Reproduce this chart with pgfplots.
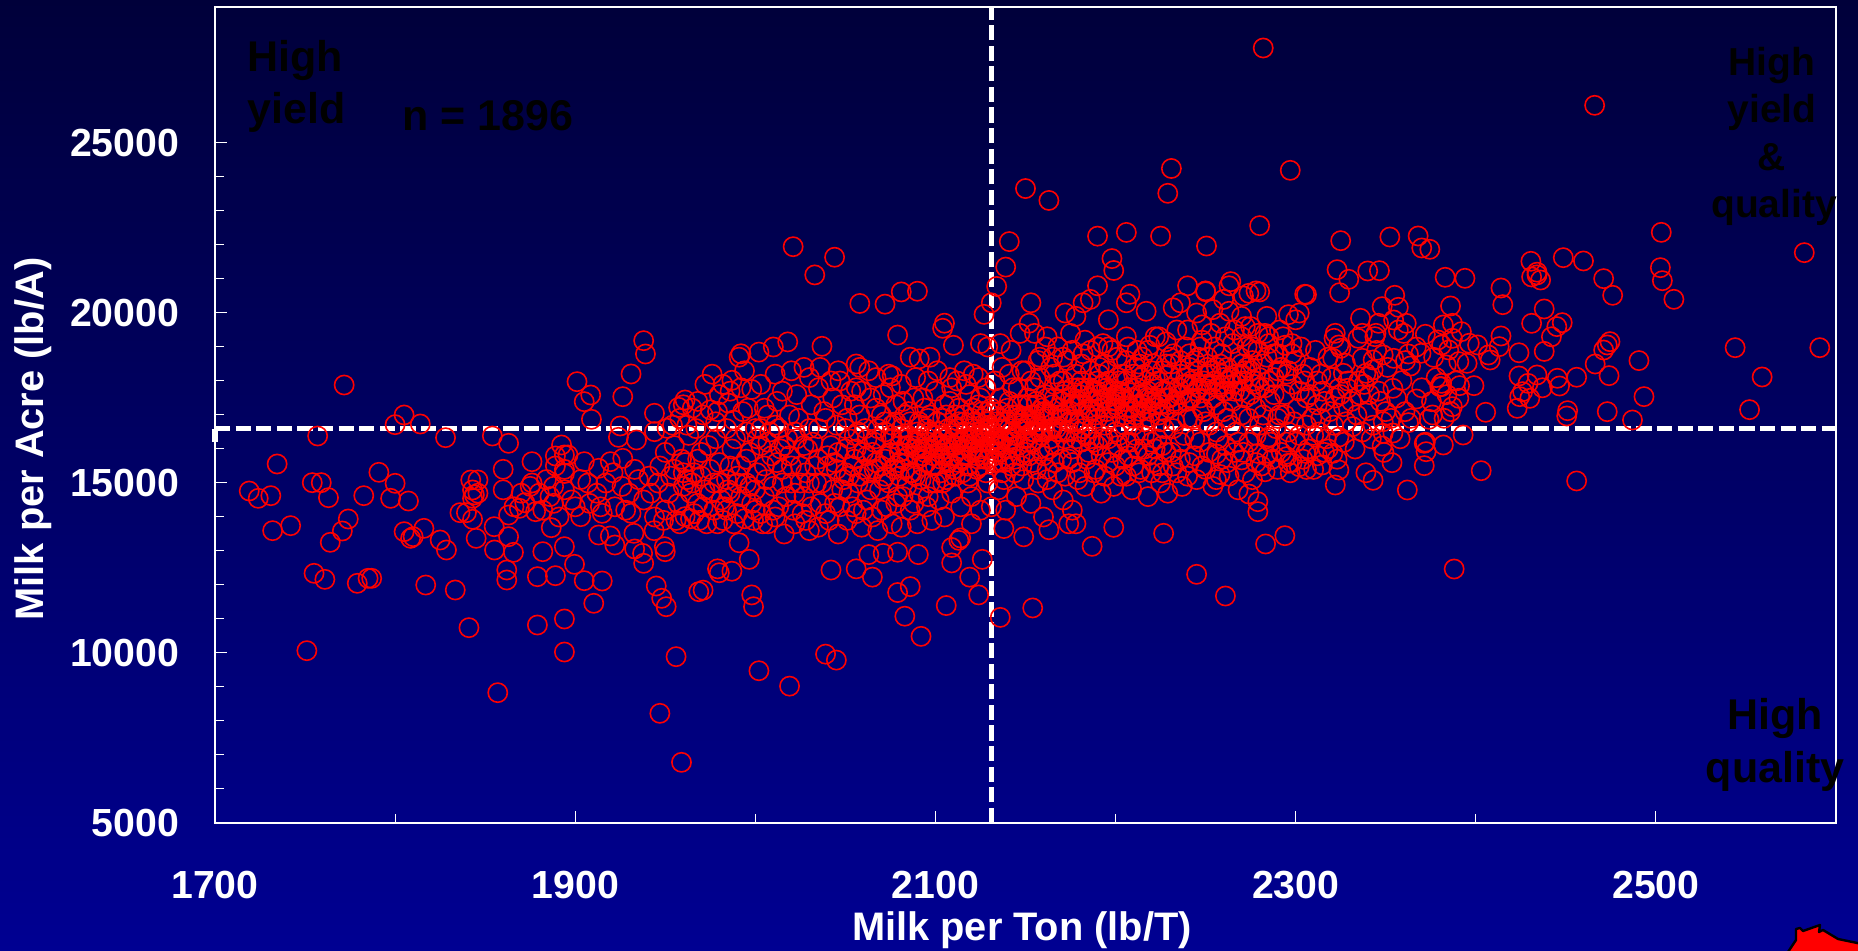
\documentclass[border=0pt]{standalone}
\usepackage{pgfplots}
\pgfplotsset{compat=1.18}
\usepackage{fontspec}
\setmainfont{Liberation Sans}
\definecolor{bgtop}{RGB}{0,0,58}
\definecolor{bgbot}{RGB}{0,0,146}
\begin{document}
\begin{tikzpicture}
\shade[top color=bgtop,bottom color=bgbot] (0,0) rectangle (929pt,475.5pt);
\begin{axis}[
  at={(107.5pt,64pt)},anchor=south west,scale only axis,
  width=810.5pt,height=408pt,
  xmin=1700,xmax=2600,ymin=5000,ymax=29000,
  xtick={1700,1900,2100,2300,2500},minor x tick num=1,
  ytick={5000,10000,15000,20000,25000},minor y tick num=4,
  scaled y ticks=false,
  xtick pos=bottom,ytick pos=left,tick align=inside,
  major tick length=6pt,minor tick length=4.5pt,
  every tick/.style={white,line width=0.5pt},
  axis line style={white,line width=1.3pt},
  /pgf/number format/assume math mode=true,
  /pgf/number format/1000 sep={},
  /pgf/number format/fixed,
  tick label style={font=\bfseries\fontsize{19.6}{19.6}\selectfont,text=white},
  xticklabel style={yshift=-20.7pt},
  yticklabel style={xshift=-14.4pt},
  clip=false,
]
\addplot[white,line width=2.6pt,dash pattern=on 7.6pt off 2.7pt] coordinates {(1700,16600)(2600,16600)};
\addplot[white,line width=2.6pt,dash pattern=on 7.6pt off 2.7pt] coordinates {(2131,5000)(2131,29000)};
\addplot[white,line width=3pt] coordinates {(1700,16600)(1700,16220)};
\addplot[only marks,mark=o,mark size=4.8pt,draw=red,mark options={draw=red,line width=0.8pt}] coordinates {
(2282,27794)(2466,26108)(2297,24196)(2231,24250)(2229,23520)(2150,23660)(2163,23310)(2280,22569)(2141,22100)(2021,21950)(2044,21640)(2033,21120)
(2190,22260)(2206,22370)(2225,22260)(2250.5,21970)(2325,22127)(2352.3,22235)(2368,22265)(2370,21912)(2374.5,21873)(2503,22372)(2582.4,21775)
(2430.6,21520)(2448.6,21627)(2459.8,21530)(2431,21060)(2434,21200)(2436,20970)(2434,21120)(2471,21010)(2476,20520)(2502.5,21333)(2503.6,20950)(2510,20402)
(2323,21274)(2329.5,20990)(2340,21236)(2346.5,21245)(2324.4,20598)(2383,21050)(2394,21020)(2264,20922)(2250,20627)(2274,20580)(2280,20618)(2306,20540)
(2355,20520)(2348,20186)(2357,20166)(2386,20206)(2414,20735)(2415,20245)(2438,20118)(2431,19696)(2448,19716)(2445,19600)(2442,19300)(2438,18870)(2414,19324)
(2413,19010)(2401,19060)(2396.4,19110)(2424,18830)(2474.5,19157)(2473,19060)(2471,18910)(2466.3,18500)(2490.6,18600)(2544,18980)(2591,18980)(2474,18157)
(2456,18110)(2445.3,18080)(2559,18118)(2446.5,17853)(2437,17800)(2434,18176)(2424,18147)(2429,17930)(2426,17686)(2430,17490)(2424.4,17540)(2423,17196)
(2493.4,17540)(2473,17098)(2451,17127)(2450.5,16970)(2405.5,17080)(2552,17157)(2487,16853)(2399,17863)(2391,17863)(2381,17834)(2393,16412)(2382,16118)
(2371.4,16167)(2372.4,15921)(2371.4,15510)(2353.5,15598)(2348,16088)(2403,15362)(2456,15060)(2343,15080)(2362,14794)(2322,14941)(2279,14451)(2279,14157)
(2274,14676)(2294,13450)(2283.3,13206)(2388,12470)(2261,11676)(2245,12314)
(2336,19843)(2346,19696)(2354.4,19794)(2361.4,19696)(2357,19500)(2360,19400)(2322,19402)(2321.3,19255)(2324,19059)(2325,18961)(2334.6,19255)(2337,19402)
(2344.6,19402)(2344,19304)(2372,19373)(2382,19647)(2387,19696)(2392,19451)(2387,19255)(2379,19206)(2381,19059)(2385,18912)(2376.6,18696)(2369.6,18814)
(2362.6,18794)(2354.4,18667)(2348.6,18765)(2337,18667)(2343,18618)(2327.6,18520)(2320.6,18667)(2363.8,18441)(2383.6,18471)(2390.6,18569)(2395.2,18520)
(2408,18618)(2407,18765)(2343,18324)(2339,18226)(2340.4,18128)(2326.5,18226)(2359,18010)(2354,17784)(2381,17931)(2380,17833)(2367,17471)(2375.4,17392)
(2387,17245)(2390.6,17490)(2386,17098)(2382.4,16902)(2374,16873)(2360.7,17098)(2362.6,16775)(2348.6,16804)(2340.4,17127)(2335.8,17588)(2328.8,17784)
(2324,17784)(2326.5,17245)(2331.6,16657)(2348.6,16461)(2354,16470)(2324,16350)(2320.6,15872)(2324,15382)(2314.8,15530)(2305.5,15872)(2295,15774)(2296,15579)
(2302,15480)(2285,16350)(2283,15330)(2279,15870)(2270,15680)(2258,15250)(2256,15850)(2261,16100)
(1771.7,17882)(1805,17000)(1800,16716)(1814,16735)(1757,16382)(1828,16333)(1854,16382)(1863,16167)(1734.5,15559)(1791,15314)(1892.4,16118)(1889,15794)
(1894,15824)(1896,15824)(1876,15627)(1905,15627)(1938,19186)(1939,18794)(1931,18206)(1901,17980)(1908.6,17588)(1905,17392)(1909,16873)(1926.4,17539)
(1925,16677)(1924,16343)(1934,16265)(1944,17050)(1957.4,17225)(1961,17441)(1944,16510)(1951,16608)(1860,15402)(1889,15500)(1894,15280)(1913,15432)
(1919.5,15627)(1926.4,15725)(1842,15088)(1846,15088)(1754,15010)(1759,15010)(1800,14990)
(1719,14764)(1724,14549)(1731,14627)(1763,14568)(1782.6,14627)(1797.5,14549)(1807.4,14470)(1732,13598)(1742,13745)(1774,13941)(1770.7,13588)(1764,13255)
(1805,13568)(1810,13421)(1808.6,13372)(1816,13666)(1825,13323)(1828.5,13029)(1836,14127)(1839.6,14127)(1843,13931)(1845,13372)(1855,13715)(1855.2,13029)
(1863,13421)(1865.7,12960)(1862,12441)(1862,12147)(1879,12245)(1889,12274)(1882,12980)(1886.7,13686)(1894,13127)(1899.6,12608)(1905,12127)(1915,12117)
(1910.3,11461)(1755,12343)(1761,12166)(1779,12049)(1785,12196)(1787,12196)(1817,11999)(1833.4,11853)(1841,10745)(1879,10823)(1894,11000)(1894,10029)(1751,10068)
(1857,8833)(1956,9892)(1947,8225)(1959,6784)(1945,11970)(1948,11608)(1950.5,11362)(1968.6,11804)(1913,13470)(1919.5,13441)(1922,13176)(1932.6,13519)(1933,13059)
(1937.4,12931)(1938,12637)(1949.5,13127)(1950,12980)(1943.8,13598)(1903,14010)(1878,14157)(1888,14402)(1863,14058)(1869,14255)(1915,14108)(1931,14108)
(1950,14206)(1961,14010)(1843,14549)(1843,14794)(1844,14650)(1846,14700)(1866,14300)(1872,14420)(1875,14900)(1880,14700)(1884,15100)(1860,14800)
(2002,9478)(2019,9025)(2039,9966)(2045,9791)(1999,11360)(1998,11708)(2092,10489)(2083,11082)(2106,11395)(2136,11047)(2154,11325)(2124,11708)(2119,12231)(2126,12754)
(2086,11952)(2079,11778)(2065,12231)(2056,12475)(2042,12440)(1971,11848)(1979,12475)(1980,12360)(1987,12405)(1996.6,12754)(1991,13242)(2063,12894)(2071,12929)
(2079,12964)(2090.5,12894)(2109,12650)(2109,13103)(2113,13313)(2114,13382)(2120,13800)(2138,13660)(2149,13417)(2163,13625)(2174,13800)(2178,13800)(2187,13137)
(2199,13695)(2226.7,13520)
(2090,20640)(2081,20620)(2058,20280)(2072,20260)(2079,19350)(2104,19550)(2105,19700)(2127,19960)(2134,20780)(2131,20300)(2139,21350)(2125,19100)(2129,19000)
(2110,19050)(2097,18700)(2091,18650)(2086,18700)(2056,18500)(2058,18400)(2037,19020)(2018,19150)(2010,19000)(2002,18850)(1992,18800)(1991,18700)(1976,18200)
(1987,18020)(1982,17900)(1992,17800)(1998,17750)(1960,17300)(1968,17400)(1978,16800)(1985,17350)(2005,17200)(2012,17400)(2020,18300)(2030,18100)(2036,18400)
(2042,18000)(2046,18300)(2056,17800)(2067,18100)(2076,18150)(2082,17400)(2096,18000)(2108,18100)(2116,18300)(2124,18100)(2136,19100)(2142,18900)(2147,19400)
(2152,19700)(2153,20300)(2155,19400)(2162,19300)(2165,18700)(2158,18700)(2172,20000)(2178,19900)(2182,20300)(2186,20400)(2190,20800)(2196,19800)(2198,21600)
(2199,21250)(2208,20550)(2206,20300)(2217,20050)(2222,19300)(2232,20150)(2236,20300)(2240,20800)(2250,20650)(2263,20800)(2260,20400)(2271,20500)(2278,20650)
(2245,20000)(2254,20100)(2263,20050)(2270,19900)(2275,19600)(2284,19900)(2291,19500)(2296,19950)(2302,20000)(2305,20550)(2300,19800)(2294,19050)(2285,19300)
(2279,18900)(2270,19300)(2258,19700)(2248,19650)(2240,19500)(2228,19150)(2219,19050)(2212,18900)(2206,19300)(2193,19100)(2183,19200)(2175,19400)(2168,19000)
(1950,15900)(1955,16100)(1959,15700)(1963,16400)(1966,15300)(1970,15900)(1972,14800)(1975,15400)(1978,16300)(1981,14500)(1984,15100)(1987,16000)(1990,14100)
(1992,15500)(1995,16500)(1997,14900)(1999,13900)(2001,15300)(2003,16100)(2005,14600)(2007,13800)(2009,15800)(2011,16700)(2013,14300)(2015,15000)(2016,13500)
(2018,16300)(2020,15500)(2022,14700)(2024,16900)(2026,14100)(2028,15300)(2030,13600)(2032,16200)(2034,15000)(2036,14400)(2038,17100)(2040,15800)(2041,13900)
(1938,14500)(1941,15200)(1944,14000)(1947,15500)(1930,14700)(1933,15400)(1926,14900)(1922,14300)(1917,15000)(1912,14700)(1908,14400)(1903,15100)(1898,14500)
(1894,14800)(1891,14000)(1886,14600)(1952,14700)(1956,13900)(1960,14900)(1964,13950)(1968,14400)(1973,13800)(1977,14200)(1982,13900)(1986,14700)(1990,15200)
(1994,13950)(1997,15900)(1954,16700)(1958,16900)(1962,16700)(1967,16600)(1971,17000)(1975,17150)(1980,17600)(1984,16600)(1988,16850)(1993,17100)(2000,16600)
(2043,14800)(2044,15600)(2045,16700)(2046,13500)(2047,14300)(2048,17300)(2049,15100)(2050,16000)(2051,13900)(2052,14700)(2053,17700)(2054,15500)(2055,16400)
(2056,14100)(2057,15000)(2058,17000)(2059,13700)(2060,15900)(2061,16600)(2062,14500)(2063,15300)(2064,17500)(2065,14000)(2066,16200)(2067,15600)(2068,13600)
(2069,14800)(2070,17000)(2071,15100)(2072,16500)(2073,14300)(2074,15800)(2075,17800)(2076,13800)(2077,15400)(2078,16800)(2079,14600)(2080,16100)(2081,13700)
(2082,15700)(2083,17000)(2084,14900)(2085,16400)(2086,14200)(2087,15300)(2088,17500)(2089,16000)(2090,13800)(2091,14700)(2092,16700)(2093,15500)(2094,17200)
(2095,14300)(2096,16200)(2097,15000)(2098,13900)(2099,15800)(2100,17700)(2101,16500)(2102,14500)(2103,15300)(2104,16900)(2105,14000)(2106,16000)(2107,15600)
(2108,17400)(2109,14700)(2110,16700)(2111,15200)(2112,18000)(2113,16200)(2114,14300)(2115,15800)(2116,17000)(2117,16500)(2118,15000)(2119,17600)(2120,14600)
(2121,16000)(2122,16800)(2123,15400)(2124,17300)(2125,14200)(2126,16400)(2127,15700)(2128,17800)(2129,15000)(2130,16600)(2131,14300)(2132,17100)(2133,15900)
(2134,16300)(2135,14800)(2136,17500)(2137,15300)(2138,16800)(2139,14200)(2140,16000)(2141,18200)(2142,15500)(2143,17000)(2144,16400)(2145,14600)(2146,17800)
(2147,15800)(2148,16700)(2149,15100)(2150,18300)(2151,16200)(2152,17300)(2153,14400)(2154,15600)(2155,17800)(2156,16800)(2157,15000)(2158,18100)(2159,16400)
(2160,14000)(2161,17100)(2162,15400)(2163,16000)(2164,18400)(2165,14800)(2166,17500)(2167,16600)(2168,15300)(2169,18000)(2170,17000)(2171,14500)(2172,16300)
(2173,18600)(2174,15700)(2175,17300)(2176,14200)(2177,16800)(2178,18200)(2179,15100)(2180,17600)(2181,16200)(2182,18800)(2183,14900)(2184,17000)(2185,15900)
(2186,18300)(2187,16600)(2188,17700)(2189,15400)(2190,19000)(2191,17200)(2192,14700)(2193,16300)(2194,18500)(2195,17800)(2196,15600)(2197,16900)(2198,18900)
(2199,14900)(2200,17400)(2201,16100)(2202,18000)(2203,15200)(2204,17600)(2205,16700)(2206,18600)(2207,15800)(2208,17200)(2209,14800)(2210,18200)(2211,16400)
(2212,17800)(2213,15300)(2214,17100)(2215,18700)(2216,16000)(2217,17500)(2218,14600)(2219,16900)(2220,18300)(2221,15600)(2222,17300)(2223,16300)(2224,18000)
(2225,15000)(2226,17700)(2227,16600)(2228,18500)(2229,14700)(2230,17200)(2231,15900)(2232,18800)(2233,16800)(2234,15300)(2235,17600)(2236,18200)(2237,14900)
(2238,16400)(2239,19000)(2240,17400)(2241,15600)(2242,18000)(2243,16900)(2244,18600)(2245,15100)(2246,17800)(2247,16200)(2248,19200)(2249,17100)(2250,15400)
(2251,18400)(2252,16700)(2253,17900)(2254,14900)(2255,19000)(2256,17300)(2257,16300)(2258,18500)(2259,15700)(2260,17700)(2261,19300)(2262,16900)(2263,15200)
(2264,18100)(2265,17400)(2266,19500)(2267,16500)(2268,14800)(2269,18700)(2270,17000)(2271,15900)(2272,18300)(2273,19000)(2274,16200)(2275,17600)(2276,15100)
(2277,18000)(2278,17200)(2279,19400)(2280,16700)(2281,15500)(2282,18500)(2283,17800)(2284,16300)(2285,19100)(2286,17400)(2287,15700)(2288,18100)(2289,16600)
(2290,18800)(2291,17000)(2292,15900)(2293,19300)(2294,17600)(2295,16200)(2296,18300)(2297,15300)(2298,17900)(2299,16800)(2300,18600)(2301,17200)(2302,16400)
(2303,19000)(2304,15700)(2305,18000)(2306,17500)(2307,16000)(2308,18400)(2309,16900)(2310,15400)(2311,18900)(2312,17300)(2313,16500)(2314,18200)(2315,17700)
(2316,15900)(2317,16300)(2318,18700)(2319,17100)(2321,16700)(2323,15700)(2325,17600)(2327,16200)(2329,18000)(2331,17400)(2333,16000)(2335,18000)(2337,16500)
(2339,15300)(2341,17600)(2343,16700)(2345,18900)(2347,17400)(2349,15900)(2351,18400)(2353,16900)(2356,17500)(2358,16300)(2361,18600)(2364,16900)(2367,19000)
(2370,17800)(2372,16200)(2376,17000)(2378,18100)(2384,17600)(2389,18000)
(2130,16700)(2135,16900)(2125,16500)(2120,16600)(2128,16400)(2140,16800)(2110,16300)(2115,16000)(2105,15800)(2100,16100)(2095,16000)(2090,15700)(2085,15800)
(2080,15600)(2145,17000)(2150,16900)(2155,17000)(2160,17100)(2165,17300)(2170,17400)(2175,17500)(2180,17400)(2185,17500)(2190,17700)(2195,17500)(2200,17600)
(2205,17400)(2210,17500)(2215,17600)(2220,17400)(2225,17300)(2230,17500)(2235,17800)(2240,17900)(2245,17700)(2250,17900)(2255,18000)(2260,18100)(2265,17900)
(2270,18200)(2275,18300)(2280,18100)(2285,18000)(2290,18300)(2295,18200)(2175,17100)(2180,16800)(2185,17200)(2190,16900)(2195,17100)(2200,17300)(2205,17000)
(2210,16900)(2215,17300)(2220,17100)(2225,16800)(2170,16900)(2165,16600)(2160,16900)(2155,16500)(2150,16300)(2145,16400)(2140,16200)(2135,16100)(2130,16200)
(2125,16000)(2120,15900)(2115,16200)(2110,15800)(2105,16300)(2100,15500)(2095,15600)(2090,16200)(2085,16300)(2080,15200)(2075,15900)(2070,15500)(2065,15900)
(2060,15400)(2055,15700)(2050,15300)(2045,15400)(2040,15500)(2035,15700)(2030,15000)(2025,15500)(2020,15000)(2015,15400)(2010,14900)(2005,15500)(2000,14800)
(1995,15000)(1990,15000)(1985,14800)(1980,15000)(1975,14700)(1970,15200)(1965,15000)(1960,15300)
(1953,15200)(1957,14400)(1961,15600)(1964,14700)(1968,15700)(1971,14300)(1974,16100)(1977,15000)(1980,15600)(1983,14300)(1986,15500)(1989,16300)(1992,14600)(1995,15700)
(1998,14400)(2001,16300)(2003,14100)(2006,15100)(2008,16500)(2010,14200)(2012,15600)(2014,16000)(2017,14600)(2019,15800)(2021,14200)(2023,16300)(2025,15000)(2027,14600)
(2029,16000)(2031,14300)(2033,15500)(2035,16600)(2037,15000)(2039,14100)(2042,16100)(2044,14400)(2046,15900)(2048,14800)(2050,16600)(2052,15200)(2054,14300)(2056,16000)
(2058,15200)(2060,14200)(2062,16300)(2064,14800)(2066,15400)(2068,16600)(2070,14200)(2072,15700)(2074,15000)(2076,16300)(2078,14400)(2080,15900)(2082,14600)(2084,16100)
(2086,15300)(2088,14400)(2090,16500)(2092,15100)(2094,15900)(2096,14600)(2098,16400)(2100,15000)(2102,15900)(2104,16400)(2106,15100)(2108,16200)(2110,15400)(2112,16600)
(2114,15700)(2116,16300)(2118,15500)(2120,16900)(2122,16200)(2124,15700)(2126,16900)(2128,15300)(2130,16000)(2132,15600)(2134,16800)(2136,16200)(2138,15600)(2140,17200)
(2142,16500)(2144,15700)(2146,16900)(2148,17300)(2150,15900)(2152,16700)(2154,16200)(2156,17400)(2158,16000)(2160,16600)(2162,17500)(2164,16300)(2166,15600)(2168,17000)
(2170,16500)(2172,17700)(2174,16800)(2176,16000)(2178,17300)(2180,16500)(2182,17800)(2184,16400)(2186,17100)(2188,16200)(2190,18000)(2192,17400)(2194,16700)(2196,18000)
(2198,17200)(2200,16500)(2202,17700)(2204,18200)(2206,16200)(2208,17800)(2210,16700)(2212,17300)(2214,18100)(2216,16800)(2218,17700)(2220,16200)(2222,18100)(2224,17000)
(2226,16100)(2228,17700)(2230,18200)(2232,16600)(2234,17300)(2236,16200)(2238,17900)(2240,16900)(2242,17500)(2244,16300)(2246,18300)(2248,17200)(2250,16800)(2252,18200)
(2254,17500)(2256,16500)(2258,17900)(2260,17100)(2262,18400)(2264,16700)(2266,17700)(2268,16200)(2270,18500)(2272,17500)(2274,16900)(2276,18600)(2278,16400)(2280,17800)
(2282,17000)(2284,18700)(2286,16200)(2288,17600)(2290,16900)(2292,18400)(2294,17000)(2296,16500)(2298,18800)(2300,16200)(2302,17700)(2304,18200)(2306,16700)(2308,17600)
(2310,16400)(2312,18000)(2314,16900)(2316,17400)(2318,16000)(2320,18100)(2322,17500)(2328,16800)(2334,17000)(2338,17900)(2342,16300)(2346,17700)(2350,17100)
(1935,15100)(1928,14200)(1921,15300)(1914,14300)(1907,15000)(1900,14300)(1894,15400)(1888,14900)(1882,14200)(1876,15000)(1870,14700)(1942,14700)(1946,15000)(1949,13900)
(1955,15400)(1958,13800)(1962,15100)(1966,14100)(1969,13900)(1979,13800)(1984,14200)(1988,13800)(2000,14200)(2004,13800)(2011,14000)(2022,13800)(2028,13900)(2035,13700)
(2092,16000)(2097,16500)(2103,16100)(2107,16600)(2111,16100)(2113,16800)(2117,16100)(2119,16300)(2123,16500)(2124,15900)(2127,16200)(2129,16800)(2131,16500)(2133,16300)
(2136,16600)(2138,16300)(2141,16600)(2143,16200)(2146,16600)(2149,16900)(2151,16700)(2153,17000)(2157,16700)(2159,17200)(2161,16500)(2163,17000)(2168,17200)(2171,17600)
(2173,17100)(2177,17400)(2179,17800)(2181,17300)(2183,17700)(2187,17400)(2189,17000)(2191,17600)(2193,17900)(2197,17400)(2199,17700)(2201,17200)(2203,17500)(2207,17100)
(2209,17500)(2211,17000)(2213,17600)(2217,17200)(2219,17500)(2221,17900)(2223,17500)(2227,17100)(2229,17500)(2231,17800)(2233,17400)(2237,17600)(2239,18100)(2241,17500)
(2243,17900)(2247,17500)(2249,18000)(2251,17700)(2253,18300)(2257,17800)(2259,18200)(2261,17700)(2263,18000)(2267,18200)(2269,17700)(2271,18000)(2273,18400)(2277,17900)
(1965,17200)(1972,17900)(1979,17100)(1986,17700)(1994,18300)(1996,17200)(2003,17900)(2007,17000)(2011,18200)(2015,17700)(2019,17000)(2023,17600)(2027,18400)(2031,17300)
(2035,17800)(2039,16900)(2043,17500)(2047,18000)(2051,16900)(2055,17300)(2059,17700)(2063,18300)(2067,17200)(2071,17600)(2074,18200)(2078,17300)(2081,17900)(2085,17100)
(2089,18100)(2093,17500)(2097,17000)(2101,18300)(2105,17300)(2109,17800)(2113,17200)(2117,17900)(2121,18200)(2125,17500)(2129,17100)(2133,18000)(2137,18400)(2143,17800)
(2148,18300)(2153,18000)(2157,18600)(2161,19000)(2166,18200)(2171,18700)(2176,18900)(2181,18500)(2186,18900)(2191,18400)(2196,19000)(2201,18700)(2207,19000)(2213,18500)
(2218,18900)(2224,19300)(2230,18700)(2234,19500)(2241,18800)(2247,19000)(2253,19400)(2259,18800)(2265,19100)(2272,19600)(2276,19000)(2283,19400)(2288,18800)(2298,19100)
(2072,15200)(2075,16400)(2078,15500)(2081,16400)(2083,15400)(2087,16100)(2089,15200)(2091,16300)(2093,15800)(2095,16600)(2098,15500)(2101,16200)(2103,15700)(2104,15000)
(2107,16100)(2109,15500)(2111,16400)(2113,15600)(2115,15300)(2117,15800)(2119,15200)(2121,16300)(2123,15800)(2125,15500)(2127,16600)(2129,15700)(2132,16200)(2134,15600)
(2136,15900)(2138,15100)(2140,15700)(2142,16300)(2144,15300)(2146,16100)(2148,15500)(2150,16600)(2152,15800)(2154,16500)(2156,15400)(2158,16500)(2160,15800)(2162,15100)
(2164,16600)(2166,16100)(2168,16500)(2170,15700)(2172,15200)(2174,16500)(2176,15600)(2178,16300)(2180,15300)(2182,16600)(2184,15700)(2186,16300)(2188,15300)(2190,16100)
(2192,15800)(2194,15200)(2196,16300)(2198,15900)(2200,15500)(2202,16400)(2204,15700)(2206,15200)(2208,16200)(2210,15500)(2212,16000)(2214,15400)(2216,16400)(2218,15800)
(2220,15300)(2222,16000)(2224,15500)(2226,15300)(2228,15900)(2232,15500)(2236,15700)(2240,15200)(2244,15800)(2248,15500)(2252,15900)(2256,15100)(2262,15600)(2266,15900)
(2272,15300)(2278,15600)(2284,15800)(2290,15400)(2298,15600)(2306,15400)(2312,15800)(2030,16600)(2027,16100)(2022,16500)(2016,16100)(2013,16600)(2007,16200)(2003,16600)
(2052,16300)(2057,16500)(2062,15800)(2067,16300)(2072,16800)(2076,16700)(2081,16600)(2086,16800)(2091,16800)(2096,16900)(2101,16800)(2106,17000)(2111,17000)(2116,16800)
(2121,17200)(2126,17100)(2131,17200)(2136,17100)(2141,17400)(2146,17300)(2151,17500)(2156,17300)(2161,17600)(2166,17900)(2171,18000)(2176,17800)(2181,18000)(2186,17800)
(2191,18200)(2196,18300)(2201,18100)(2206,18000)(2211,18400)(2216,18200)(2221,18500)(2226,18300)(2231,18500)(2236,18600)(2241,18400)(2246,18700)(2251,18700)(2256,18400)
};
\end{axis}
\begin{scope}[x=1pt,y=1pt]
\clip (0,0) rectangle (929,475.5);
\filldraw[fill=red,draw=black,line width=1.2pt,line join=round]
 (893,-2)--(898,5.5)--(898,11)--(900,11.5)--(901.5,10)--(910,13)--(909.5,9.5)--(911.5,10.5)--(919,6)--(931,3.5)--(931,-2)--cycle;
\end{scope}
\tikzset{hd/.style={inner sep=0pt,text=black,font=\bfseries\fontsize{21.5}{21.5}\selectfont},
 hr/.style={inner sep=0pt,text=black,font=\bfseries\fontsize{19.5}{19.5}\selectfont}}
\node[hd,anchor=base west] at (123.5pt,439.5pt) {High};
\node[hd,anchor=base west] at (123.5pt,413.5pt) {yield};
\node[hd,anchor=base west] at (201pt,410pt) {n = 1896};
\node[hr,anchor=base] at (886pt,437.5pt) {High};
\node[hr,anchor=base] at (886pt,414pt) {yield};
\node[hr,anchor=base] at (886pt,390pt) {\&};
\node[hr,anchor=base] at (887pt,366.5pt) {quality};
\node[hd,anchor=base] at (887.5pt,110.5pt) {High};
\node[hd,anchor=base] at (887.5pt,84pt) {quality};
\node[anchor=base,inner sep=0pt,text=white,font=\bfseries\fontsize{19.9}{19.9}\selectfont] at (511pt,5pt) {Milk per Ton (lb/T)};
\node[anchor=base,rotate=90,inner sep=0pt,text=white,font=\bfseries\fontsize{19.9}{19.9}\selectfont] at (21.5pt,256pt) {Milk per Acre (lb/A)};
\end{tikzpicture}
\end{document}
